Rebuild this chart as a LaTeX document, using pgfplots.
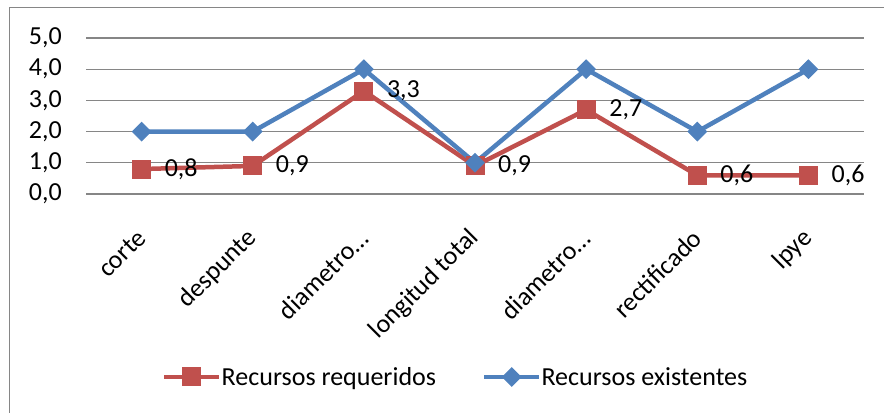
\documentclass[border=0pt]{standalone}
\usepackage{fontspec}
\setmainfont{Carlito}
\usepackage{pgfplots}
\usepackage{pgfplotstable}
\pgfplotsset{compat=1.18}

\definecolor{req}{HTML}{C0504D}
\definecolor{exi}{HTML}{4F81BD}
\definecolor{gridgray}{HTML}{868686}

% Recursos por operación
\pgfplotstableread{
idx requeridos existentes
0   0.8        2
1   0.9        2
2   3.3        4
3   0.9        1
4   2.7        4
5   0.6        2
6   0.6        4
}\recursos

\newcommand{\chartfont}{\fontsize{26bp}{31bp}\selectfont}

\begin{document}
\begin{tikzpicture}
\path[use as bounding box, clip] (0bp,0bp) rectangle (884bp,413bp);
% chart frame
\draw[gridgray, line width=1.3bp] (9.5bp,-20bp) rectangle (900bp,405.5bp);
\begin{axis}[
  at={(86bp,219bp)}, anchor=south west,
  scale only axis, width=778bp, height=156bp,
  xmin=-0.5, xmax=6.5, ymin=0, ymax=5,
  axis line style={draw=none},
  tick style={draw=none},
  ytick={0,1,2,3,4,5},
  ymajorgrids,
  grid style={gridgray, line width=1.3bp},
  yticklabel={\pgfmathprintnumber[fixed,fixed zerofill,precision=1,use comma,assume math mode=true]{\tick}},
  yticklabel style={inner sep=0pt, xshift=-24bp},
  xtick={0,...,6},
  xticklabels={corte,despunte,diametro…,longitud total,diametro…,rectificado,lpye},
  xticklabel style={xshift=0bp, yshift=-40bp, rotate=45, anchor=east, inner sep=0pt},
  every tick label/.append style={font=\chartfont},
  legend columns=2,
  legend style={at={(0.474,-1.173)}, anchor=center, draw=none, fill=none,
    font=\chartfont, inner sep=0pt,
    nodes={inner sep=0pt},
    /tikz/every odd column/.append style={column sep=0bp},
    /tikz/every even column/.append style={column sep=46bp}},
  legend image code/.code={%
    \draw[mark repeat=2, mark phase=2] plot coordinates {(0bp,0bp) (27.5bp,0bp) (55bp,0bp)};},
]
\addplot[req, line width=4.5bp, mark=square*, mark size=9bp,
  mark options={line width=1bp, fill=req}]
  table[x=idx, y=requeridos]{\recursos};
\addlegendentry{Recursos requeridos}
\addplot[exi, line width=4.5bp, mark=square*, mark size=6.5bp,
  mark options={rotate=45, line width=1bp, fill=exi}]
  table[x=idx, y=existentes]{\recursos};
\addlegendentry{Recursos existentes}
% data labels of the required resources, on top of both lines
\addplot[draw=none, forget plot, point meta=y,
  nodes near coords={\pgfmathprintnumber[fixed,fixed zerofill,precision=1,use comma,assume math mode=true]{\pgfplotspointmeta}},
  nodes near coords style={anchor=west, inner sep=0pt, xshift=23bp, font=\chartfont, text=black}]
  table[x=idx, y=requeridos]{\recursos};
\end{axis}
\end{tikzpicture}
\end{document}
